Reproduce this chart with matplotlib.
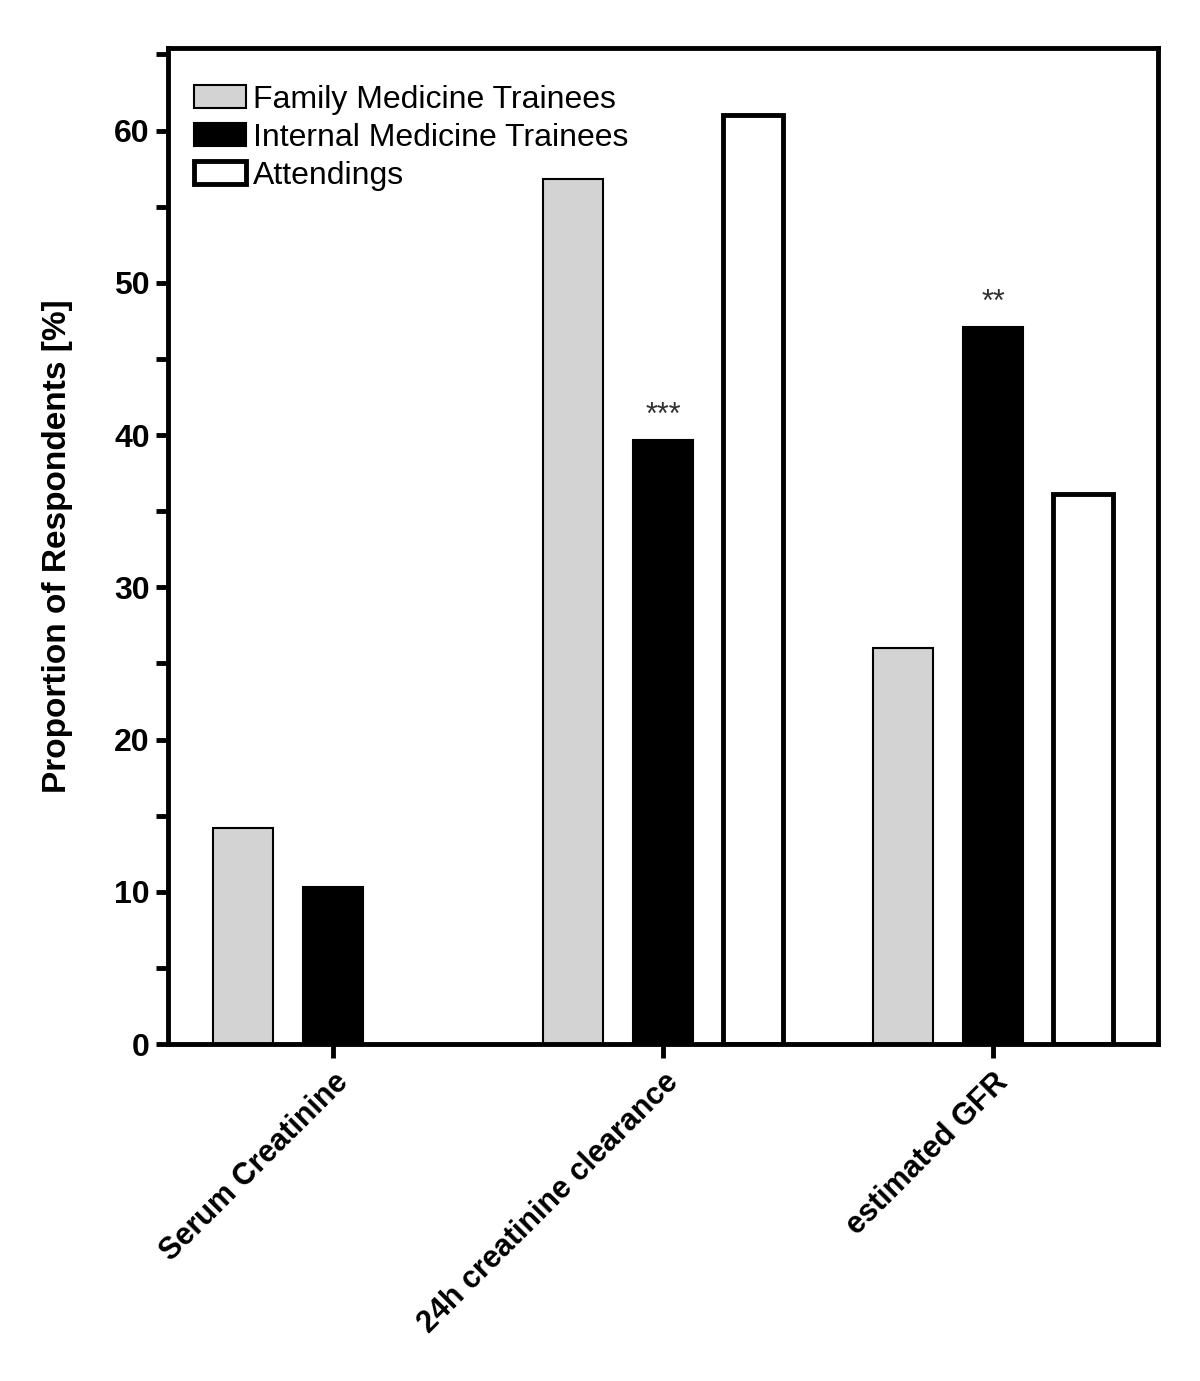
import matplotlib.pyplot as plt
import numpy as np
from matplotlib.ticker import MultipleLocator

plt.rcParams['font.family'] = ['Liberation Sans', 'DejaVu Sans']

# data
categories = ["Serum Creatinine", "24h creatinine clearance", "estimated GFR"]
series = ["Family Medicine Trainees", "Internal Medicine Trainees", "Attendings"]
family = [14.2, 56.8, 26.0]
internal = [10.3, 39.7, 47.1]
attendings = [0.0, 61.0, 36.1]
stars = ["", "***", "**"]

fig = plt.figure(figsize=(12, 13.81), dpi=100)
ax = fig.add_axes([0.14, 0.244, 0.825, 0.721])

x = np.arange(len(categories))
w = 0.182
off = 0.273

b1 = ax.bar(x - off, family, w, color="#d3d3d3", edgecolor="black", linewidth=1.5,
            label=series[0])
b2 = ax.bar(x, internal, w, color="black", edgecolor="black", linewidth=1.5,
            label=series[1])
# attendings bars (skip zero one so no line is drawn)
att_x = [xi + off for xi, v in zip(x, attendings) if v > 0]
att_v = [v for v in attendings if v > 0]
ax.bar(att_x, att_v, w, color="white", edgecolor="black", linewidth=3.5)
b3 = ax.bar([np.nan], [np.nan], w, color="white", edgecolor="black", linewidth=3.5,
            label=series[2])

for xi, v, s in zip(x, internal, stars):
    if s:
        ax.text(xi, v + 0.6, s, ha="center", va="bottom", fontsize=22, color="#333333")

ax.set_xlim(-0.5, 2.5)
ax.set_ylim(0, 65.4)
ax.yaxis.set_major_locator(MultipleLocator(10))
ax.yaxis.set_minor_locator(MultipleLocator(5))
ax.set_xticks(x)
ax.set_xticklabels(categories, rotation=45, ha="right", rotation_mode="anchor",
                   fontsize=22, fontweight="bold")
for lab in ax.get_yticklabels():
    lab.set_fontweight("bold")
ax.tick_params(axis="y", which="major", labelsize=23, width=3.5, length=9, direction="out", pad=4)
ax.tick_params(axis="y", which="minor", width=3.5, length=9, direction="out")
ax.tick_params(axis="x", width=3.5, length=10, direction="out", pad=7)

for sp in ax.spines.values():
    sp.set_linewidth(3.5)

ax.set_ylabel("Proportion of Respondents [%]", fontsize=24, fontweight="bold", labelpad=30)

ax.legend(handles=[b1, b2, b3], loc="upper left", frameon=False, fontsize=23,
          handlelength=1.65, handleheight=0.7, handletextpad=0.2, labelspacing=0.25,
          borderaxespad=0.4, bbox_to_anchor=(0.0, 0.989))

fig.savefig("out.png", dpi=100)
